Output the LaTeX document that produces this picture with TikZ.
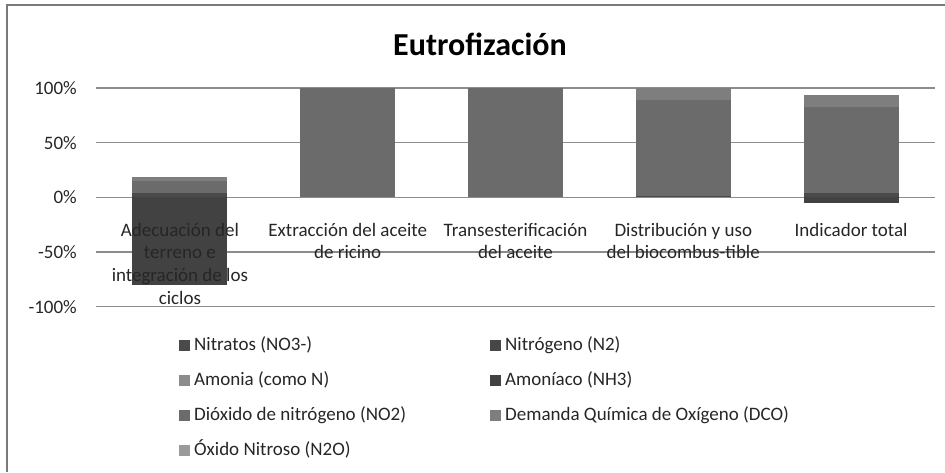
\documentclass[tikz,border=0pt]{standalone}
\usepackage{fontspec}
\setmainfont{Carlito}
\definecolor{gridgray}{HTML}{8C8C8C}
\definecolor{framegray}{HTML}{7A7A7A}
\definecolor{textgray}{HTML}{262626}
\definecolor{nitratos}{HTML}{4A4A4A}
\definecolor{nitrogeno}{HTML}{474747}
\definecolor{amonia}{HTML}{8C8C8C}
\definecolor{amoniaco}{HTML}{424242}
\definecolor{dioxido}{HTML}{6B6B6B}
\definecolor{dco}{HTML}{7E7E7E}
\definecolor{oxido}{HTML}{9A9A9A}
\tikzset{
    gridline/.style={gridgray,line width=1.3},
    catlabel/.style={anchor=base,align=center,inner sep=0,text=textgray},
    ticklabel/.style={anchor=east,inner sep=0,text=textgray},
    legsq/.style={minimum width=11,minimum height=11,inner sep=0},
    legtext/.style={anchor=base west,inner sep=0,text=textgray}
}

\begin{document}
\begin{tikzpicture}[x=1pt,y=-1pt]
    \pgfmathsetmacro{\zeroy}{197.3}
    \pgfmathsetmacro{\pctscale}{1.093}
    \pgfmathsetmacro{\barwidth}{95}
    \pgfmathsetmacro{\catwidth}{167.8}
    \pgfmathsetmacro{\plotleft}{96}
    \pgfmathsetmacro{\plotright}{935}
    \pgfmathsetmacro{\lineskip}{22.7}
    \providecommand{\titlefontsize}{\fontsize{32}{38}\selectfont}
    \providecommand{\labelfontsize}{\fontsize{19}{22.7}\selectfont}
    \useasboundingbox (0,0) rectangle (945,472);
    \draw[framegray,line width=2] (7,472) -- (7,5) -- (945,5);
    \node[anchor=base,inner sep=0] (title) at (480,55) {\titlefontsize\textbf{Eutrofización}};
    % grid and ticks
    \foreach \p in {-100,-50,0,50,100} {
        \pgfmathsetmacro{\gy}{\zeroy-\p*\pctscale}
        \draw[gridline] (\plotleft,\gy) -- (\plotright,\gy);
        \node[ticklabel] (tick\p) at (77,\gy) {\labelfontsize\p\%};
    }
    % stacked bars: category/from/to/colour
    \foreach \i/\lo/\hi/\col in {
        1/0/3.5/nitratos, 1/3.5/15/dioxido, 1/15/19/dco, 1/-80/0/amoniaco,
        2/0/100/dioxido,
        3/0/100/dioxido,
        4/0/1.5/nitratos, 4/1.5/89/dioxido, 4/89/100/dco,
        5/0/3.5/nitratos, 5/3.5/83/dioxido, 5/83/93.6/dco, 5/-5.5/0/amoniaco} {
        \pgfmathsetmacro{\bx}{\plotleft+(\i-0.5)*\catwidth-\barwidth/2}
        \pgfmathsetmacro{\ylo}{\zeroy-\lo*\pctscale}
        \pgfmathsetmacro{\yhi}{\zeroy-\hi*\pctscale}
        \fill[\col] (\bx,\ylo) rectangle ++(\barwidth,\yhi-\ylo);
    }
    % category labels: index/number of lines/text
    \foreach \i/\n/\txt in {
        1/4/{Adecuación del\\terreno e\\integración de los\\ciclos},
        2/2/{Extracción del aceite\\de ricino},
        3/2/{Transesterificación\\del aceite},
        4/2/{Distribución y uso\\del biocombus-tible},
        5/1/{Indicador total}} {
        \pgfmathsetmacro{\cx}{\plotleft+(\i-0.5)*\catwidth}
        \pgfmathsetmacro{\cy}{236+(\n-1)*\lineskip}
        \node[catlabel,font=\labelfontsize] (cat\i) at (\cx,\cy) {\txt};
    }
    % legend
    \foreach \name/\col/\cx/\ry/\txt in {
        a/nitratos/178/345/{Nitratos (NO3-)},
        b/nitrogeno/489/345/{Nitrógeno (N2)},
        c/amonia/178/380/{Amonia (como N)},
        d/amoniaco/489/380/{Amoníaco (NH3)},
        e/dioxido/178/415/{Dióxido de nitrógeno (NO2)},
        f/dco/489/415/{Demanda Química de Oxígeno (DCO)},
        g/oxido/178/450/{Óxido Nitroso (N2O)}} {
        \node[legsq,fill=\col] (sq\name) at (\cx+6,\ry) {};
        \node[legtext,font=\labelfontsize] (leg\name) at (\cx+16,\ry+5.5) {\txt};
    }
\end{tikzpicture}
\end{document}
